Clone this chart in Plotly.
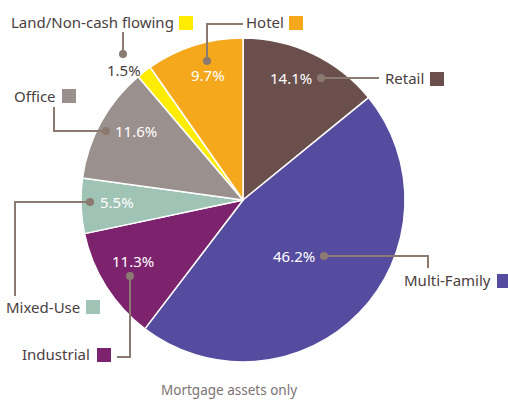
import plotly.graph_objects as go

# Portfolio mix by property type (percent of mortgage assets)
categories = ["Retail", "Multi-Family", "Industrial", "Mixed-Use", "Office",
              "Land/Non-cash flowing", "Hotel"]
shares = [14.1, 46.2, 11.3, 5.5, 11.6, 1.5, 9.7]
colors = ["#6a4f4c", "#554c9f", "#7d226d", "#9fc3b5", "#9a908d", "#ffec00", "#f6a81d"]

W, H = 508, 402
LINE = "#8b7a6f"
TXT = "#4a4040"
FONT = "Noto Sans"


def px(x):
    return x / W


def py(y):
    return 1 - y / H


fig = go.Figure(go.Pie(
    labels=categories,
    values=shares,
    sort=False,
    direction="clockwise",
    rotation=0,
    marker=dict(colors=colors, line=dict(color="white", width=1.5)),
    textinfo="none",
    hoverinfo="label+percent",
    domain=dict(x=[px(81), px(405)], y=[py(362), py(38)]),
    showlegend=False,
))

# label layout per category: value text position/color, connector path, dot,
# category text right edge and legend swatch position
layout_spec = {
    "Retail": dict(val=(291, 78, "white"), path=[(321, 78), (379, 78)], dot=(321, 78),
                   lab=(426, 78), sw=(430, 72)),
    "Multi-Family": dict(val=(294, 256, "white"), path=[(324, 256), (428, 256), (428, 268)],
                         dot=(324, 256), lab=(493, 280), sw=(497, 274)),
    "Industrial": dict(val=(133, 261, "white"), path=[(130, 276), (130, 357), (117, 357)],
                       dot=(130, 276), lab=(92, 354), sw=(97, 348)),
    "Mixed-Use": dict(val=(117, 202, "white"), path=[(90, 202), (15, 202), (15, 296)],
                      dot=(90, 202), lab=(82, 307), sw=(86, 300)),
    "Office": dict(val=(136, 131, "white"), path=[(54, 107), (54, 131), (106, 131)],
                   dot=(106, 131), lab=(58, 96), sw=(62, 89)),
    "Land/Non-cash flowing": dict(val=(124, 70, TXT), path=[(123, 32), (123, 54)],
                                  dot=(123, 54), lab=(176, 22), sw=(179, 16)),
    "Hotel": dict(val=(208, 75, "white"), path=[(207, 61), (207, 24), (243, 24)],
                  dot=(207, 61), lab=(286, 22), sw=(289, 16)),
}

shapes = []
annotations = []
for cat, val, col in zip(categories, shares, colors):
    s = layout_spec[cat]
    pts = s["path"]
    path = "M " + " L ".join(f"{px(x)},{py(y)}" for x, y in pts)
    shapes.append(dict(type="path", xref="paper", yref="paper", path=path,
                       line=dict(color=LINE, width=2)))
    dx, dy = s["dot"]
    r = 4
    shapes.append(dict(type="circle", xref="paper", yref="paper",
                       x0=px(dx - r), x1=px(dx + r), y0=py(dy + r), y1=py(dy - r),
                       fillcolor=LINE, line=dict(width=0)))
    sx, sy = s["sw"]
    shapes.append(dict(type="rect", xref="paper", yref="paper",
                       x0=px(sx), x1=px(sx + 14), y0=py(sy + 14), y1=py(sy),
                       fillcolor=col, line=dict(width=0)))
    vx, vy, vcol = s["val"]
    annotations.append(dict(x=px(vx), y=py(vy), xref="paper", yref="paper",
                            text=f"{val}%", showarrow=False, xanchor="center",
                            yanchor="middle",
                            font=dict(family=FONT, size=15, color=vcol)))
    lx, ly = s["lab"]
    annotations.append(dict(x=px(lx), y=py(ly), xref="paper", yref="paper",
                            text=cat, showarrow=False, xanchor="right",
                            yanchor="middle",
                            font=dict(family=FONT, size=15, color=TXT)))

annotations.append(dict(x=px(229), y=py(401), xref="paper", yref="paper",
                        text="Mortgage assets only", showarrow=False,
                        xanchor="center", yanchor="bottom",
                        font=dict(family=FONT, size=13.5, color="#7a7373")))

fig.update_layout(
    width=W, height=H,
    margin=dict(l=0, r=0, t=0, b=0),
    paper_bgcolor="white",
    plot_bgcolor="white",
    shapes=shapes,
    annotations=annotations,
)

fig.write_html("out.html")
